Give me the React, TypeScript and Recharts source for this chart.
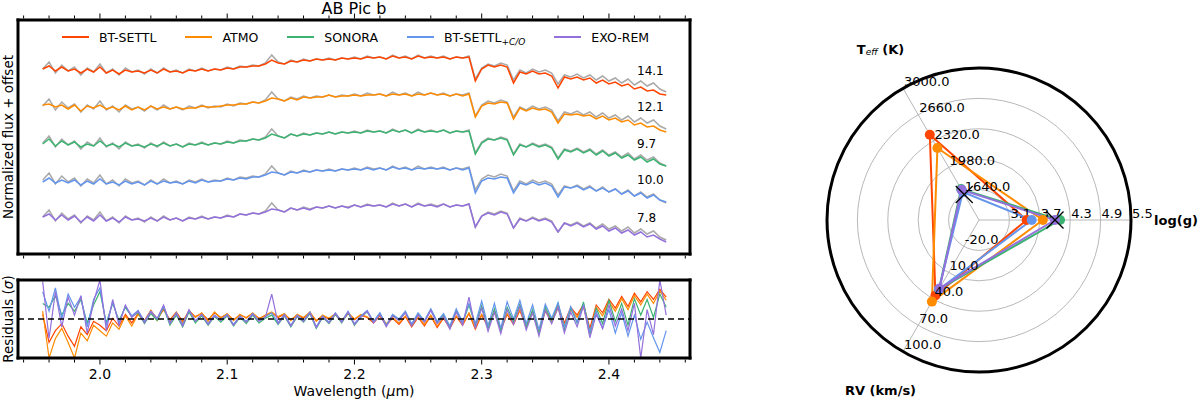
import React from 'react';
import {
  LineChart, Line, XAxis, YAxis, ReferenceLine,
  RadarChart, Radar, PolarGrid, PolarAngleAxis, PolarRadiusAxis,
} from 'recharts';

const FONT = '"DejaVu Sans", sans-serif';

// wavelength grid (µm)
const WAVELENGTH = [
  1.955, 1.960, 1.965, 1.970, 1.975, 1.980, 1.985, 1.990, 1.995, 2.000,
  2.005, 2.010, 2.015, 2.020, 2.025, 2.030, 2.035, 2.040, 2.045, 2.050,
  2.055, 2.060, 2.065, 2.070, 2.075, 2.080, 2.085, 2.090, 2.095, 2.100,
  2.105, 2.110, 2.115, 2.120, 2.125, 2.130, 2.135, 2.140, 2.145, 2.150,
  2.155, 2.160, 2.165, 2.170, 2.175, 2.180, 2.185, 2.190, 2.195, 2.200,
  2.205, 2.210, 2.215, 2.220, 2.225, 2.230, 2.235, 2.240, 2.245, 2.250,
  2.255, 2.260, 2.265, 2.270, 2.275, 2.280, 2.285, 2.290, 2.295, 2.300,
  2.305, 2.310, 2.315, 2.320, 2.325, 2.330, 2.335, 2.340, 2.345, 2.350,
  2.355, 2.360, 2.365, 2.370, 2.375, 2.380, 2.385, 2.390, 2.395, 2.400,
  2.405, 2.410, 2.415, 2.420, 2.425, 2.430, 2.435, 2.440, 2.445,
];

// observed spectrum (grey), normalized flux
const OBSERVED = [
  0.86, 0.93, 0.82, 0.90, 0.84, 0.88, 0.80, 0.87, 0.83, 0.91,
  0.82, 0.86, 0.80, 0.87, 0.83, 0.85, 0.81, 0.86, 0.82, 0.87,
  0.83, 0.85, 0.82, 0.86, 0.84, 0.87, 0.84, 0.86, 0.85, 0.88,
  0.86, 0.89, 0.88, 0.90, 0.89, 0.92, 1.00, 0.93, 0.91, 0.95,
  0.93, 0.96, 0.94, 0.96, 0.95, 0.97, 0.95, 0.97, 0.96, 0.98,
  0.96, 0.99, 0.97, 0.98, 0.96, 1.00, 0.97, 0.99, 0.96, 1.00,
  0.97, 0.99, 0.97, 0.99, 0.96, 0.98, 0.97, 0.99, 0.76, 0.87,
  0.91, 0.89, 0.92, 0.90, 0.75, 0.85, 0.82, 0.86, 0.83, 0.85,
  0.82, 0.71, 0.80, 0.78, 0.81, 0.77, 0.80, 0.75, 0.79, 0.74,
  0.77, 0.72, 0.76, 0.70, 0.74, 0.69, 0.72, 0.66, 0.63,
];

const BT_SETTL = [
  0.86, 0.89, 0.84, 0.88, 0.84, 0.86, 0.82, 0.86, 0.83, 0.88, 0.82, 0.85, 0.81, 0.85, 0.83,
  0.84, 0.82, 0.85, 0.82, 0.86, 0.83, 0.84, 0.82, 0.85, 0.84, 0.86, 0.84, 0.86, 0.85, 0.87, 0.86, 0.88, 0.88, 0.89, 0.89, 0.91,
  0.95, 0.92, 0.91, 0.94, 0.93, 0.95, 0.94, 0.96, 0.95, 0.96, 0.95, 0.97, 0.96, 0.97, 0.96, 0.98, 0.97, 0.98, 0.96, 0.99, 0.97, 0.98, 0.96, 0.99, 0.97, 0.98, 0.97, 0.98, 0.96, 0.98, 0.97, 0.98,
  0.74, 0.86, 0.90, 0.88, 0.90, 0.88, 0.72, 0.83, 0.81, 0.84, 0.81, 0.82, 0.79, 0.67, 0.78, 0.76, 0.78, 0.75, 0.77, 0.72, 0.75, 0.71, 0.73, 0.69, 0.71, 0.66, 0.68, 0.64, 0.65, 0.61, 0.60,
];
const ATMO = [
  0.87, 0.88, 0.85, 0.87, 0.83, 0.87, 0.81, 0.86, 0.84, 0.87, 0.83, 0.85, 0.82, 0.86, 0.82,
  0.85, 0.82, 0.86, 0.83, 0.85, 0.83, 0.85, 0.83, 0.84, 0.84, 0.86, 0.85, 0.85, 0.86, 0.87, 0.87, 0.88, 0.88, 0.90, 0.89, 0.91,
  0.94, 0.93, 0.91, 0.94, 0.92, 0.95, 0.94, 0.95, 0.95, 0.97, 0.95, 0.96, 0.96, 0.97, 0.96, 0.97, 0.97, 0.98, 0.96, 0.98, 0.97, 0.98, 0.96, 0.98, 0.97, 0.99, 0.97, 0.98, 0.96, 0.98, 0.96, 0.98,
  0.75, 0.86, 0.89, 0.88, 0.90, 0.89, 0.73, 0.84, 0.81, 0.84, 0.82, 0.83, 0.80, 0.69, 0.78, 0.77, 0.78, 0.76, 0.77, 0.73, 0.76, 0.72, 0.74, 0.70, 0.72, 0.67, 0.69, 0.65, 0.66, 0.62, 0.60,
];
const SONORA = [
  0.85, 0.90, 0.83, 0.88, 0.84, 0.87, 0.82, 0.85, 0.83, 0.88, 0.83, 0.85, 0.82, 0.86, 0.83,
  0.84, 0.82, 0.85, 0.83, 0.86, 0.83, 0.85, 0.82, 0.85, 0.84, 0.86, 0.84, 0.86, 0.85, 0.87, 0.86, 0.88, 0.88, 0.90, 0.89, 0.91,
  0.95, 0.93, 0.91, 0.95, 0.93, 0.95, 0.94, 0.96, 0.95, 0.97, 0.95, 0.97, 0.96, 0.97, 0.96, 0.98, 0.97, 0.98, 0.96, 0.99, 0.97, 0.99, 0.96, 0.99, 0.97, 0.98, 0.97, 0.99, 0.96, 0.98, 0.97, 0.98,
  0.75, 0.86, 0.90, 0.89, 0.91, 0.89, 0.74, 0.84, 0.82, 0.85, 0.82, 0.84, 0.81, 0.70, 0.79, 0.77, 0.80, 0.76, 0.79, 0.74, 0.78, 0.73, 0.76, 0.71, 0.74, 0.69, 0.72, 0.67, 0.70, 0.65, 0.63,
];
const BT_SETTL_CO = [
  0.84, 0.88, 0.83, 0.86, 0.83, 0.86, 0.81, 0.85, 0.82, 0.87, 0.82, 0.84, 0.81, 0.85, 0.82,
  0.84, 0.81, 0.85, 0.82, 0.85, 0.83, 0.84, 0.82, 0.85, 0.83, 0.86, 0.84, 0.85, 0.85, 0.87, 0.86, 0.88, 0.87, 0.89, 0.89, 0.91,
  0.94, 0.93, 0.91, 0.94, 0.93, 0.95, 0.94, 0.96, 0.95, 0.96, 0.95, 0.97, 0.96, 0.97, 0.96, 0.98, 0.96, 0.98, 0.96, 0.99, 0.97, 0.98, 0.96, 0.98, 0.97, 0.98, 0.97, 0.98, 0.96, 0.98, 0.96, 0.98,
  0.73, 0.85, 0.88, 0.87, 0.89, 0.88, 0.73, 0.83, 0.81, 0.84, 0.81, 0.83, 0.80, 0.69, 0.79, 0.78, 0.80, 0.76, 0.79, 0.75, 0.78, 0.74, 0.77, 0.72, 0.75, 0.70, 0.73, 0.68, 0.71, 0.66, 0.64,
];
const EXO_REM = [
  0.86, 0.89, 0.83, 0.88, 0.83, 0.87, 0.81, 0.86, 0.82, 0.88, 0.82, 0.85, 0.81, 0.86, 0.83,
  0.84, 0.82, 0.85, 0.82, 0.86, 0.83, 0.85, 0.82, 0.85, 0.84, 0.86, 0.84, 0.86, 0.85, 0.87, 0.86, 0.89, 0.88, 0.90, 0.89, 0.91,
  0.94, 0.93, 0.91, 0.95, 0.93, 0.95, 0.93, 0.96, 0.95, 0.97, 0.95, 0.97, 0.95, 0.98, 0.96, 0.98, 0.97, 0.98, 0.96, 0.99, 0.97, 0.99, 0.96, 0.99, 0.97, 0.98, 0.96, 0.99, 0.96, 0.98, 0.97, 0.99,
  0.76, 0.87, 0.90, 0.88, 0.91, 0.89, 0.75, 0.84, 0.82, 0.85, 0.82, 0.84, 0.81, 0.71, 0.80, 0.77, 0.80, 0.76, 0.79, 0.74, 0.77, 0.72, 0.75, 0.70, 0.73, 0.68, 0.71, 0.66, 0.68, 0.64, 0.61,
];

// residuals (sigma)
const RES_BT_SETTL = [
  0.6, -3.0, -1.5, -0.6, -2.2, -3.5, -1.0, -2.0, -0.3, -0.8,
  -1.5, 0.1, -0.9, 0.6, -0.5, 0.7, -0.2, 1.1, 0.0, 1.2,
  -0.1, 0.9, -0.3, 1.0, 0.3, 0.7, -0.1, 0.8, 0.2, 0.6,
  -0.1, 0.5, 0.2, 0.7, 0.1, 0.4, 0.8, 0.2, 0.6, -0.1,
  0.5, 0.1, 0.8, -0.2, 0.4, 0.0, 0.6, -0.3, 0.7, -0.1,
  0.5, 0.2, -0.5, 0.4, -0.8, 0.1, -0.7, 0.3, -1.0, 0.2,
  -0.9, 0.4, -1.1, 0.1, -1.2, 0.3, -0.8, 0.7, -1.3, 0.5,
  -1.0, 0.9, -1.4, 0.6, -0.7, 1.1, -1.0, 0.9, -1.5, 1.1,
  -0.2, 1.6, -0.5, 1.5, 0.5, 1.9, -1.2, 1.8, 0.8, 2.5,
  1.4, 2.9, 1.6, 3.3, 2.2, 3.5, 2.5, 3.8, 2.8,
];
const RES_ATMO = [
  1.0, -5.0, -2.5, -1.2, -3.0, -5.0, -1.8, -2.8, -0.8, -1.5,
  -2.2, -0.5, -1.3, 0.4, -0.9, 0.6, -0.4, 1.0, -0.2, 1.4,
  -0.3, 0.8, -0.5, 1.1, 0.2, 0.8, -0.3, 0.9, 0.1, 0.7,
  -0.2, 0.6, 0.1, 0.8, 0.0, 0.5, 0.9, 0.3, 0.7, -0.2,
  0.6, 0.2, 0.9, -0.3, 0.5, 0.1, 0.7, -0.2, 0.8, 0.0,
  0.6, 0.3, -0.4, 0.5, -0.6, 0.2, -0.5, 0.4, -0.8, 0.3,
  -0.7, 0.5, -0.9, 0.2, -1.0, 0.4, -0.6, 0.8, -1.1, 0.6,
  -0.8, 1.0, -1.2, 0.7, -0.5, 1.2, -0.9, 0.8, -1.6, 1.0,
  -0.4, 1.4, -0.8, 1.2, 0.2, 1.6, -1.9, 1.5, 0.4, 2.2,
  1.0, 2.6, 1.2, 3.0, 1.8, 3.2, 2.0, 3.6, 2.4,
];
const RES_SONORA = [
  2.0, 1.5, 3.0, 0.5, 2.0, 1.0, 2.5, -0.5, 1.8, 3.5,
  -0.5, 2.0, -0.2, 1.5, 0.3, 0.8, -0.6, 0.7, -0.2, 1.5,
  -0.8, 0.5, -1.0, 0.9, -0.5, 0.4, -0.8, 0.3, -0.4, 0.4,
  -0.9, 0.2, -0.6, 0.5, -0.5, 0.1, 0.5, -0.7, 0.4, -1.0,
  0.3, -0.4, 0.7, -1.2, 0.2, -0.6, 0.6, -0.5, 0.8, -0.8,
  0.3, 0.9, -0.4, 0.7, -0.9, 0.5, -0.1, 0.9, -0.7, 0.6,
  -0.3, 1.2, -0.4, 0.5, -1.0, 1.1, -0.5, 1.8, -0.8, 1.7,
  -1.2, 1.3, -1.5, 1.5, -0.3, 1.9, -1.0, 1.2, -1.8, 1.5,
  -0.2, 2.0, -1.3, 1.4, -0.5, 2.2, -1.9, 1.4, -0.6, 2.4,
  -0.3, 2.0, -0.8, 2.6, 0.5, 2.5, 0.2, 3.2, 1.5,
];
const RES_BT_SETTL_CO = [
  3.5, 1.0, 4.0, 0.0, 3.2, 1.5, 2.8, -1.0, 2.5, 4.0,
  -0.8, 2.2, -0.5, 1.7, 0.4, 1.1, -0.3, 1.0, 0.0, 1.6,
  -0.5, 0.8, -0.7, 1.1, -0.2, 0.6, -0.6, 0.5, -0.1, 0.6,
  -0.7, 0.4, -0.3, 0.7, -0.2, 0.3, 0.8, -0.5, 0.6, -0.8,
  0.5, -0.2, 0.9, -1.0, 0.4, -0.4, 0.8, -0.3, 1.0, -0.6,
  0.4, 1.1, -0.3, 0.8, -0.8, 0.6, 0.0, 1.0, -0.6, 0.8,
  -0.2, 1.3, -0.3, 0.7, -0.9, 1.3, -0.4, 2.0, -0.6, 2.3,
  -0.9, 2.0, -1.2, 2.2, 0.0, 2.4, -0.6, 1.8, -1.4, 1.9,
  0.1, 2.1, -1.0, 1.6, -0.4, 1.8, -1.6, 1.0, -1.2, 1.2,
  -1.8, 0.8, -2.2, 0.5, -2.6, -0.4, -2.4, -4.3, -1.5,
];
const RES_EXO_REM = [
  4.8, -2.5, 3.5, -1.0, 2.8, 0.5, 3.0, -1.8, 2.2, 5.0,
  -1.5, 2.5, -0.8, 1.8, 0.2, 1.0, -0.5, 0.9, 0.1, 1.8,
  -0.6, 0.7, -0.9, 1.2, -0.3, 0.6, -0.7, 0.4, -0.2, 0.5,
  -0.8, 0.3, -0.4, 0.6, -0.3, 0.2, 3.2, -0.6, 0.5, -0.9,
  0.4, -0.3, 0.8, -1.1, 0.3, -0.5, 0.7, -0.4, 0.9, -0.7,
  0.2, 1.0, -0.5, 0.6, -1.0, 0.4, -0.2, 0.8, -0.9, 0.5,
  -0.4, 1.1, -0.6, 0.3, -1.3, 0.9, -0.8, 2.8, -1.2, 1.4,
  -1.6, 0.9, -1.9, 1.2, -0.7, 1.6, -1.4, 0.8, -2.2, 1.1,
  -0.6, 1.5, -1.8, 0.9, -1.0, 1.7, -2.4, 0.6, -1.2, 1.8,
  -0.9, 1.3, -1.5, 2.0, -5.0, 1.2, -2.0, 5.0, 0.5,
];

const MODEL_NAMES = ['BT-SETTL', 'ATMO', 'SONORA', 'BT-SETTL+C/O', 'EXO-REM'];
const MODEL_COLORS = ['#ff4500', '#ff8c00', '#3cb371', '#6495ed', '#9370db'];
const MODELS = [BT_SETTL, ATMO, SONORA, BT_SETTL_CO, EXO_REM];
const RESIDUALS = [RES_BT_SETTL, RES_ATMO, RES_SONORA, RES_BT_SETTL_CO, RES_EXO_REM];
const OFFSETS = [1.48, 1.11, 0.74, 0.37, 0];
const CHI2 = ['14.1', '12.1', '9.7', '10.0', '7.8'];
const CHI2_Y = [71, 107, 144, 180, 218];

const X_TICKS = [
  1.94, 1.96, 1.98, 2.0, 2.02, 2.04, 2.06, 2.08, 2.1, 2.12, 2.14, 2.16, 2.18,
  2.2, 2.22, 2.24, 2.26, 2.28, 2.3, 2.32, 2.34, 2.36, 2.38, 2.4, 2.42, 2.44, 2.46,
];
const X_MAJOR = [2.0, 2.1, 2.2, 2.3, 2.4];
const X_DOMAIN: [number, number] = [1.9356, 2.4637];

// radar: best-fit parameters per model (clockwise from the right: log(g), RV, Teff)
const RADAR_AXES = ['log(g)', 'RV', 'Teff'];
const TEFF = [2400, 2230, 1700, 1660, 1690];
const LOGG = [3.44, 3.76, 4.10, 3.54, 4.00];
const RV = [36, 43, 29, 29, 28];
const LIT_TEFF = 1630;
const LIT_LOGG = 4.0;
const TEFF_TICKS = ['1640.0', '1980.0', '2320.0', '2660.0', '3000.0'];
const LOGG_TICKS = ['3.1', '3.7', '4.3', '4.9', '5.5'];
const RV_TICKS = ['-20.0', '10.0', '40.0', '70.0', '100.0'];

// ring k sits at first tick + (k-1)*step
const ringTeff = (v: number) => (v - 1300) / 340;
const ringLogg = (v: number) => (v - 2.5) / 0.6;
const ringRv = (v: number) => (v + 50) / 30;

const spectraData = WAVELENGTH.map((wl, i) => {
  const row: any = { wl };
  MODELS.forEach((m, k) => {
    row['obs' + k] = OBSERVED[i] + OFFSETS[k];
    row['mod' + k] = m[i] + OFFSETS[k];
  });
  return row;
});

const residualData = WAVELENGTH.map((wl, i) => {
  const row: any = { wl };
  RESIDUALS.forEach((r, k) => { row['res' + k] = r[i]; });
  return row;
});

const radarData = RADAR_AXES.map((axis) => {
  const row: any = { axis };
  MODELS.forEach((_, k) => {
    row['m' + k] = axis === 'log(g)' ? ringLogg(LOGG[k]) : axis === 'Teff' ? ringTeff(TEFF[k]) : ringRv(RV[k]);
  });
  row.lit = axis === 'log(g)' ? ringLogg(LIT_LOGG) : axis === 'Teff' ? ringTeff(LIT_TEFF) : 0;
  return row;
});

const frame = { stroke: '#000', strokeWidth: 3, strokeLinecap: 'square' as const };

const makeTick = (dir: number, showLabel: boolean) => (props: any) => {
  const { x, y, payload } = props;
  const major = X_MAJOR.some((m) => Math.abs(m - payload.value) < 1e-6);
  const len = major ? 5 : 3;
  return (
    <g>
      <line x1={x} x2={x} y1={y + dir * 1.5} y2={y + dir * (1.5 + len)} stroke="#000" strokeWidth={1} />
      {showLabel && major && (
        <text x={x} y={y + 16} textAnchor="middle" dominantBaseline="central" fontSize={14} fontFamily={FONT} fill="#000">
          {payload.value.toFixed(1)}
        </text>
      )}
    </g>
  );
};

const radiusTick = (labels: string[]) => (props: any) => {
  const { x, y, payload } = props;
  const i = Math.round(payload.value) - 1;
  if (i < 0 || i >= labels.length) return <g />;
  return (
    <text x={x + 1} y={y - 7} textAnchor="start" dominantBaseline="central" fontSize={13} fontFamily={FONT} fill="#000">
      {labels[i]}
    </text>
  );
};

const AngleTick = (props: any) => {
  const { x, y, payload } = props;
  const v = payload.value;
  return (
    <text x={x} y={y} textAnchor="middle" dominantBaseline="central" fontSize={13} fontWeight="bold" fontFamily={FONT} fill="#000">
      {v === 'Teff' ? (
        <>
          T<tspan fontSize={9} fontStyle="italic" fontWeight="normal" dy={3}>eff</tspan>
          <tspan dy={-3}> (K)</tspan>
        </>
      ) : v === 'RV' ? 'RV (km/s)' : v}
    </text>
  );
};

const radarDot = (color: string) => (p: any) => (
  <circle key={p.index} cx={p.cx} cy={p.cy} r={5} fill={color} stroke="none" />
);

const litDot = (p: any) => {
  if (RADAR_AXES[p.index] === 'RV') return <g key={p.index} />;
  const s = 8.5;
  return (
    <g key={p.index}>
      <line x1={p.cx - s} y1={p.cy - s} x2={p.cx + s} y2={p.cy + s} stroke="#000" strokeWidth={1.3} />
      <line x1={p.cx - s} y1={p.cy + s} x2={p.cx + s} y2={p.cy - s} stroke="#000" strokeWidth={1.3} />
    </g>
  );
};

const abs = (left: number, top: number): React.CSSProperties => ({ position: 'absolute', left, top });

const RADAR_PROPS = {
  width: 400, height: 399, cx: 179, cy: 220, outerRadius: 152, innerRadius: 0,
  startAngle: 0, endAngle: -360, data: radarData,
};

// transparent overlay that only carries one set of radial tick labels
function RadialLabels({ angle, labels }: { angle: number; labels: string[] }) {
  return (
    <div style={{ ...abs(800, 0), pointerEvents: 'none' }}>
      <RadarChart {...RADAR_PROPS}>
        <PolarAngleAxis dataKey="axis" tick={false} tickLine={false} axisLine={false} />
        <PolarRadiusAxis angle={angle} type="number" domain={[0, 5]} ticks={[1, 2, 3, 4, 5]} tickCount={6}
          axisLine={false} tickLine={false} tick={radiusTick(labels)} />
        <Radar dataKey="m0" stroke="none" fill="none" fillOpacity={0} dot={false} isAnimationActive={false} />
      </RadarChart>
    </div>
  );
}

export default function App() {
  return (
    <div style={{ position: 'absolute', left: 0, top: 0, width: 1200, height: 399, background: '#fff', fontFamily: FONT, color: '#000' }}>
      {/* title */}
      <div style={{ ...abs(0, 0), width: 708, textAlign: 'center', fontSize: 16, lineHeight: '18px' }}>AB Pic b</div>

      {/* spectra panel */}
      <div style={abs(0, 0)}>
        <LineChart width={700} height={260} data={spectraData} margin={{ top: 19, right: 9, bottom: 5, left: 17 }}>
          <XAxis xAxisId="top" orientation="top" type="number" dataKey="wl" domain={X_DOMAIN} allowDataOverflow
            ticks={X_TICKS} interval={0} height={1} tickSize={0} tickMargin={0} tickLine={false}
            tick={makeTick(-1, false)} axisLine={frame} />
          <XAxis type="number" dataKey="wl" domain={X_DOMAIN} allowDataOverflow
            ticks={X_TICKS} interval={0} height={1} tickSize={0} tickMargin={0} tickLine={false}
            tick={makeTick(1, false)} axisLine={frame} />
          <YAxis type="number" domain={[0.49, 2.83]} allowDataOverflow width={1} tick={false} tickLine={false} axisLine={frame} />
          <YAxis yAxisId="right" orientation="right" type="number" domain={[0.49, 2.83]} width={1} tick={false} tickLine={false} axisLine={frame} />
          {MODELS.map((_, k) => (
            <Line key={'obs' + k} dataKey={'obs' + k} stroke="#a9a9a9" strokeWidth={1.5} dot={false} isAnimationActive={false} />
          ))}
          {MODELS.map((_, k) => (
            <Line key={'mod' + k} dataKey={'mod' + k} stroke={MODEL_COLORS[k]} strokeWidth={1.5} dot={false} isAnimationActive={false} />
          ))}
        </LineChart>
      </div>

      {/* legend */}
      <div style={{ ...abs(62, 29), display: 'flex', alignItems: 'center', height: 16, fontSize: 12.5, whiteSpace: 'nowrap' }}>
        {MODEL_NAMES.map((name, k) => (
          <div key={name} style={{ display: 'flex', alignItems: 'center', marginRight: 29 }}>
            <div style={{ width: 27, height: 2, background: MODEL_COLORS[k], marginRight: 10 }} />
            {name === 'BT-SETTL+C/O' ? (
              <span>BT-SETTL<span style={{ fontSize: 9, fontStyle: 'italic', position: 'relative', top: 3 }}>+C/O</span></span>
            ) : (
              <span>{name}</span>
            )}
          </div>
        ))}
      </div>

      {/* chi2 labels */}
      {CHI2.map((c, k) => (
        <div key={c + k} style={{ ...abs(637, CHI2_Y[k] - 8), fontSize: 12, lineHeight: '16px' }}>{c}</div>
      ))}

      {/* y label top */}
      <div style={{ ...abs(8 - 130, 137 - 9), width: 260, height: 18, lineHeight: '18px', textAlign: 'center', fontSize: 13.5, transform: 'rotate(-90deg)' }}>
        Normalized flux + offset
      </div>

      {/* residual panel */}
      <div style={abs(0, 270)}>
        <LineChart width={700} height={129} data={residualData} margin={{ top: 9, right: 9, bottom: 40, left: 17 }}>
          <XAxis xAxisId="top" orientation="top" type="number" dataKey="wl" domain={X_DOMAIN} allowDataOverflow
            height={1} tick={false} tickLine={false} axisLine={frame} />
          <XAxis type="number" dataKey="wl" domain={X_DOMAIN} allowDataOverflow
            ticks={X_TICKS} interval={0} height={1} tickSize={0} tickMargin={0} tickLine={false}
            tick={makeTick(1, true)} axisLine={frame} />
          <YAxis type="number" domain={[-5, 5]} allowDataOverflow width={1} tick={false} tickLine={false} axisLine={frame} />
          <YAxis yAxisId="right" orientation="right" type="number" domain={[-5, 5]} width={1} tick={false} tickLine={false} axisLine={frame} />
          {RESIDUALS.map((_, k) => (
            <Line key={'res' + k} dataKey={'res' + k} stroke={MODEL_COLORS[k]} strokeWidth={1.2} dot={false} isAnimationActive={false} />
          ))}
          <ReferenceLine y={0} stroke="#000" strokeWidth={1.5} strokeDasharray="6 4" />
        </LineChart>
      </div>

      <div style={{ ...abs(8 - 60, 319 - 9), width: 120, height: 18, lineHeight: '18px', textAlign: 'center', fontSize: 13.5, transform: 'rotate(-90deg)' }}>
        Residuals (<i>σ</i>)
      </div>
      <div style={{ ...abs(254, 382), width: 200, textAlign: 'center', fontSize: 14, lineHeight: '18px' }}>
        Wavelength (<i>μ</i>m)
      </div>

      {/* radar */}
      <div style={abs(800, 0)}>
        <RadarChart {...RADAR_PROPS}>
          <PolarGrid gridType="circle" polarRadius={[30.4, 60.8, 91.2, 121.6]} stroke="#b0b0b0" strokeWidth={0.9} />
          <PolarAngleAxis dataKey="axis" axisLineType="circle" axisLine={{ stroke: '#000', strokeWidth: 3 }}
            tickLine={false} tickSize={45} tick={AngleTick} />
          <PolarRadiusAxis angle={0} type="number" domain={[0, 5]} ticks={[1, 2, 3, 4, 5]} tickCount={6}
            axisLine={false} tickLine={false} tick={radiusTick(LOGG_TICKS)} />
          {MODELS.map((_, k) => (
            <Radar key={'m' + k} dataKey={'m' + k} stroke={MODEL_COLORS[k]} strokeWidth={2} fill="none" fillOpacity={0}
              dot={radarDot(MODEL_COLORS[k])} isAnimationActive={false} />
          ))}
          <Radar dataKey="lit" stroke="none" fill="none" fillOpacity={0} dot={litDot} isAnimationActive={false} />
        </RadarChart>
      </div>
      <RadialLabels angle={120} labels={TEFF_TICKS} />
      <RadialLabels angle={240} labels={RV_TICKS} />
    </div>
  );
}
